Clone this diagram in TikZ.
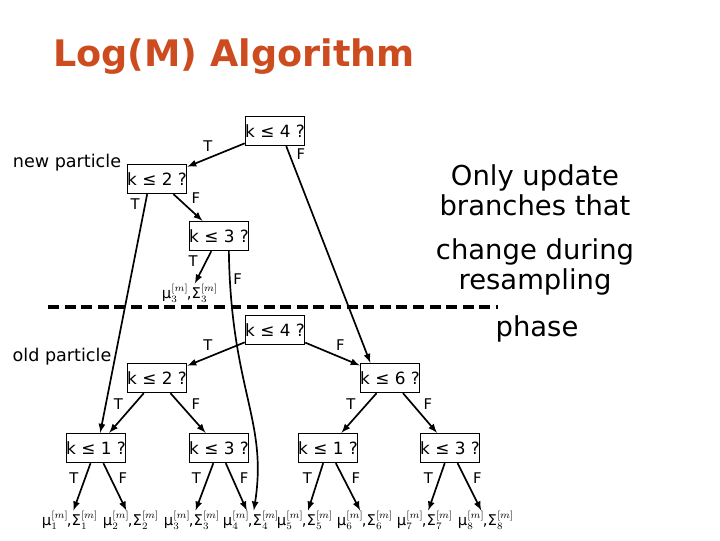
\documentclass[tikz,border=0pt]{standalone}
\usepackage{fontspec}
\setmainfont{DejaVu Sans}
\usepackage{tikz}
\usetikzlibrary{arrows}
\definecolor{titlered}{RGB}{204,76,32}
\newcommand{\musig}[1]{μ$_{#1}^{[m]}$\kern-1pt,Σ$_{#1}^{[m]}$}

\begin{document}
\begin{tikzpicture}[x=0.025cm, y=-0.025cm,
  test/.style={draw, line width=0.6pt, inner sep=0pt, minimum width=41pt, minimum height=21pt, font=\fontsize{12}{14}\selectfont},
  leaf/.style={inner sep=0pt, font=\fontsize{10.5}{13}\selectfont},
  tf/.style={font=\fontsize{10.5}{12}\selectfont, inner sep=2pt}]
  \useasboundingbox (0,0) rectangle (720,540);

  \node[text=titlered, font=\fontsize{26}{30}\selectfont\bfseries] (title) at (234,57) {Log(M) Algorithm};
  \node[font=\fontsize{12.5}{15}\selectfont] (newp) at (67,163) {new particle};
  \node[font=\fontsize{12.5}{15}\selectfont] (oldp) at (62,357) {old particle};
  \node[align=center, font=\fontsize{19.5}{21.5}\selectfont] (note1) at (535,190) {Only update\\branches that};
  \node[align=center, font=\fontsize{19.5}{21.5}\selectfont] (note2) at (535,267) {change during\\resampling};
  \node[font=\fontsize{19.5}{21.5}\selectfont] (note3) at (537,329) {phase};

  % new particle
  \node[test] (n4) at (275,131) {k ≤ 4 ?};
  \node[test] (n2) at (157,179) {k ≤ 2 ?};
  \node[test] (n3) at (219,236) {k ≤ 3 ?};
  \node[leaf] (u3) at (190,293) {\musig{3}};

  % old particle
  \node[test] (o4) at (275,330) {k ≤ 4 ?};
  \node[test] (o2) at (157,378) {k ≤ 2 ?};
  \node[test] (o6) at (390,378) {k ≤ 6 ?};
  \node[test] (o1) at (96,448) {k ≤ 1 ?};
  \node[test] (o3) at (219,448) {k ≤ 3 ?};
  \node[test] (p1) at (328,448) {k ≤ 1 ?};
  \node[test] (p3) at (450,448) {k ≤ 3 ?};

  \node[leaf] (l1) at (70,520) {\musig{1}};
  \node[leaf] (l2) at (131,520) {\musig{2}};
  \node[leaf] (l3) at (192,520) {\musig{3}};
  \node[leaf] (l4) at (251,520) {\musig{4}};
  \node[leaf] (l5) at (305,520) {\musig{5}};
  \node[leaf] (l6) at (365,520) {\musig{6}};
  \node[leaf] (l7) at (425,520) {\musig{7}};
  \node[leaf] (l8) at (486,520) {\musig{8}};

  \draw[line width=2.8pt, dash pattern=on 7.8pt off 4pt] (48,307) -- (498,307);

  \path[-latex, line width=1.2pt]
  (n4) edge node [tf, auto, swap] {T} (n2)
  ([xshift=8pt]n4.south) edge node [tf, auto, pos=0.08] {F} ([xshift=-14pt]o6.north)
  (n2) edge node [tf, auto] {F} (n3)
  ([xshift=-7pt]n2.south) edge node [tf, auto, swap, pos=0.08] {T} ([xshift=3pt]o1.north)
  (n3) edge node [tf, auto, swap, pos=0.6] {T} (u3)
  (o4) edge node [tf, auto, swap] {T} (o2)
       edge node [tf, auto] {F} (o6)
  (o2) edge node [tf, auto, swap] {T} (o1)
       edge node [tf, auto] {F} (o3)
  (o6) edge node [tf, auto, swap] {T} (p1)
       edge node [tf, auto] {F} (p3)
  (o1) edge node [tf, auto, swap] {T} (l1)
       edge node [tf, auto] {F} (l2)
  (o3) edge node [tf, auto, swap] {T} (l3)
       edge node [tf, auto] {F} (l4)
  (p1) edge node [tf, auto, swap] {T} (l5)
       edge node [tf, auto] {F} (l6)
  (p3) edge node [tf, auto, swap] {T} (l7)
       edge node [tf, auto] {F} (l8)
  ;
  \draw[-latex, line width=1.2pt] ([xshift=7pt]n3.south) .. controls (231,390) and (268,420) .. ([xshift=2pt]l4.north)
    node [tf, pos=0.07, right] {F};
\end{tikzpicture}
\end{document}
